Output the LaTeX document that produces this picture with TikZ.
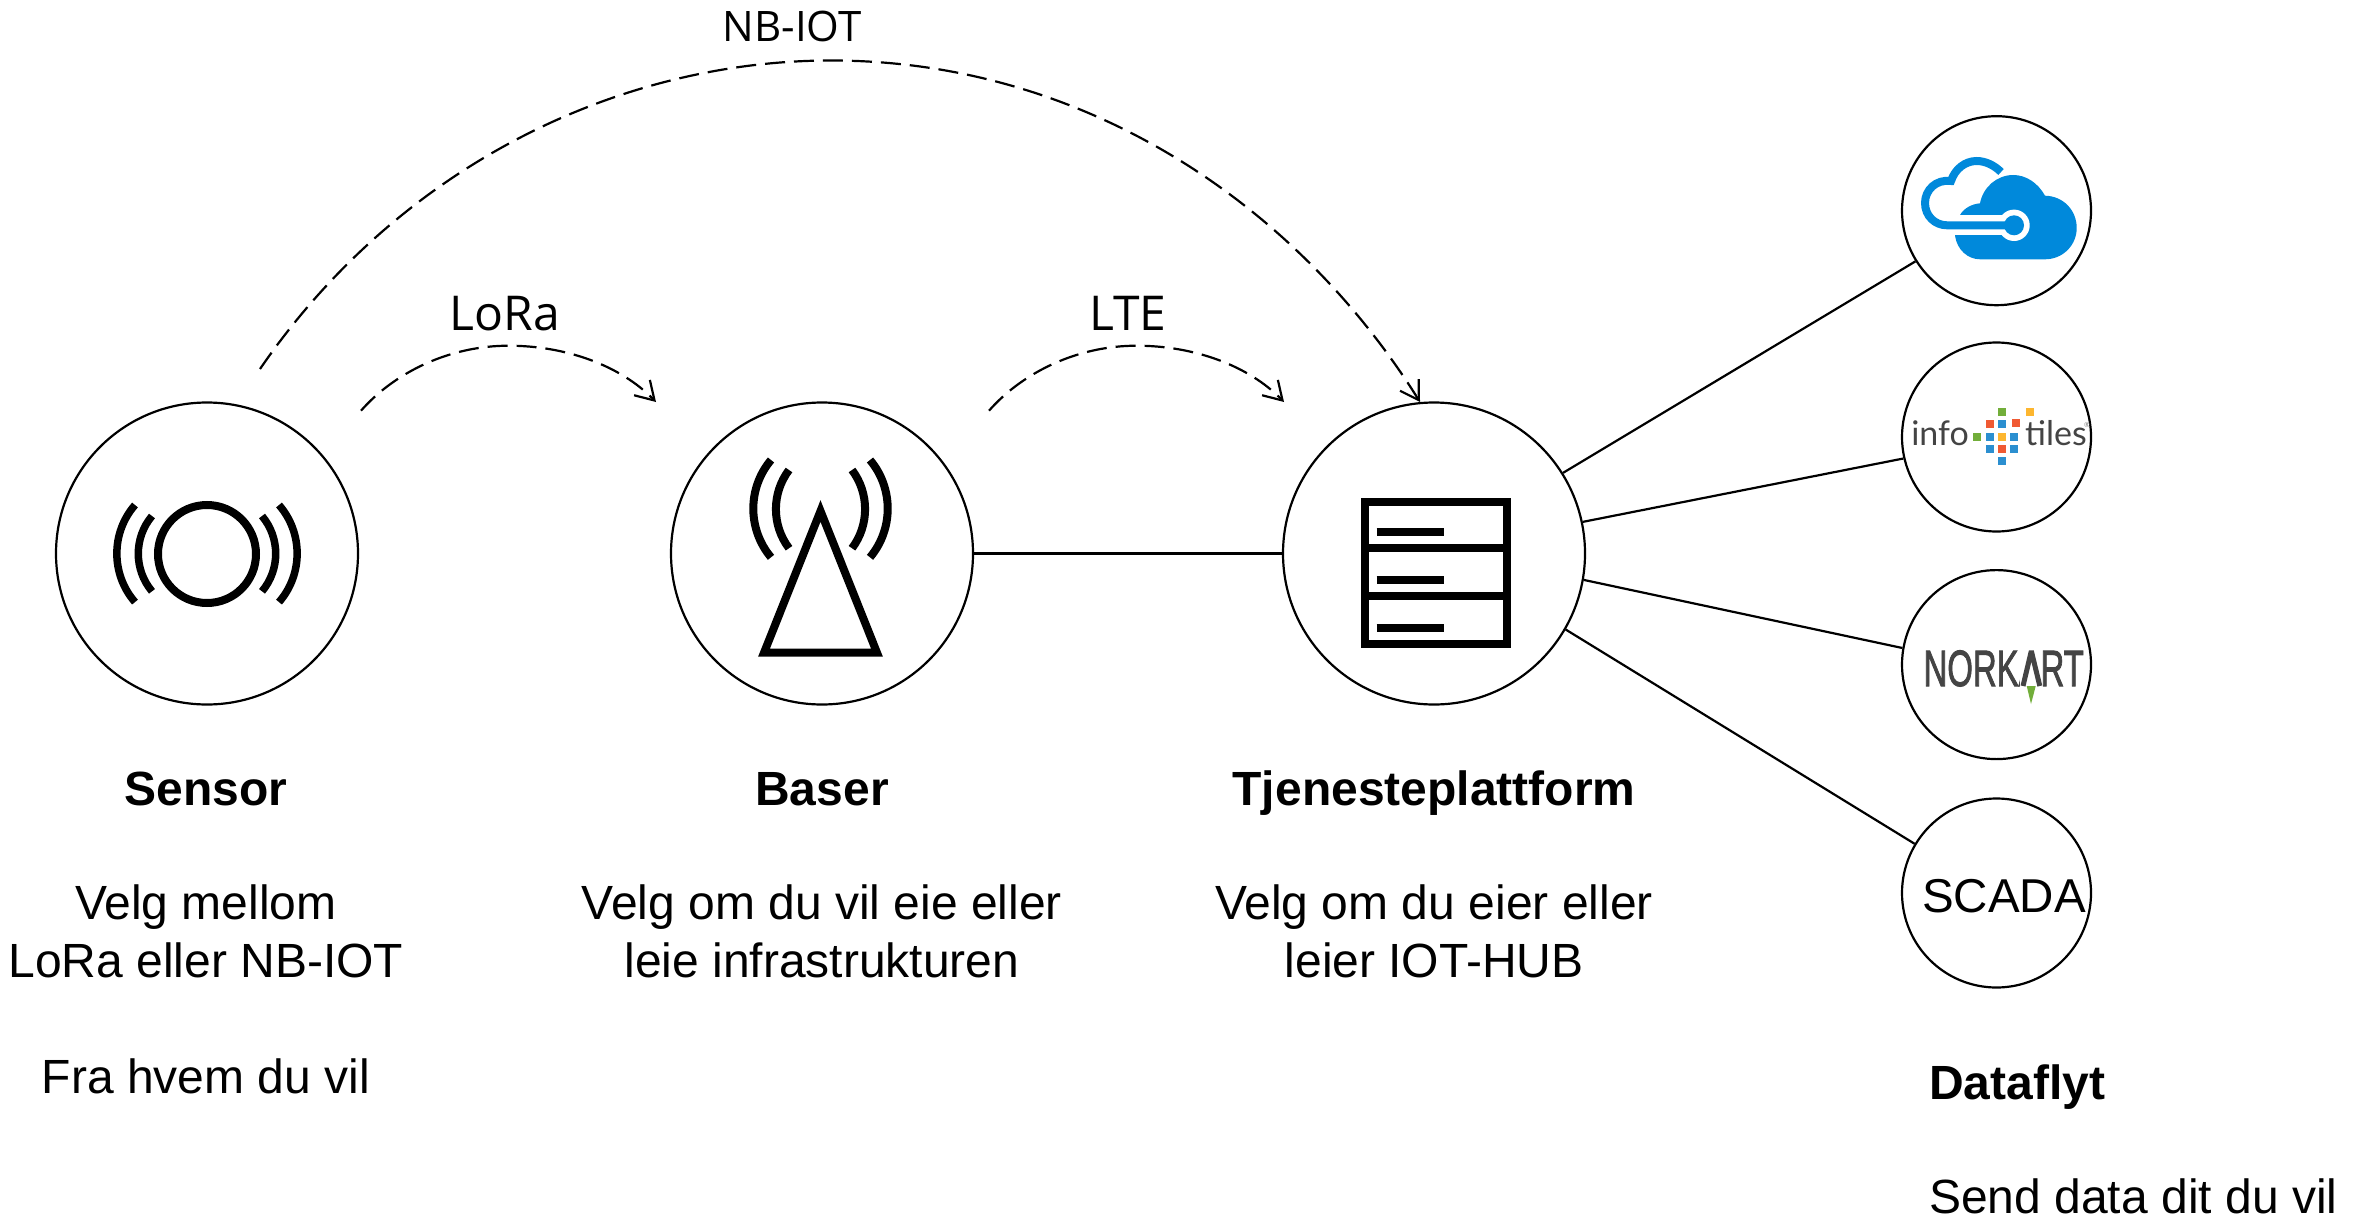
\documentclass[tikz,border=0pt]{standalone}
\usepackage{fontspec}
\setmainfont{Liberation Sans}
\newfontfamily\labfont{Open Sans}
\newfontfamily\logofont{Lato}
\newfontfamily\norkfont[FakeBold=2]{Liberation Sans}
\usetikzlibrary{arrows.meta}
\definecolor{azure}{HTML}{0089DB}
\definecolor{tblue}{HTML}{2B8FD0}
\definecolor{tred}{HTML}{F05A33}
\definecolor{torange}{HTML}{FDB62F}
\definecolor{tgreen}{HTML}{72AE3A}
\definecolor{logogrey}{HTML}{444444}
\newcommand{\tilesq}[3]{\fill[#1] ({1860+#2/3-4},{100+#3/3-4}) rectangle ++(8,8);}
\tikzset{
  x=1pt,y=-1pt,
  bigc/.style={circle,draw=black,line width=2.2pt,minimum size=302pt,inner sep=0pt,fill=white},
  smallc/.style={circle,draw=black,line width=2.2pt,minimum size=189pt,inner sep=0pt,fill=white},
  link/.style={line width=2.2pt,draw=black},
  flow/.style={line width=2.2pt,draw=black,dash pattern=on 20pt off 9pt,-{Straight Barb[length=18pt,width=22pt,line width=2.2pt]}},
  icon/.style={line width=8pt,draw=black},
  lab/.style={anchor=base,inner sep=0pt,font=\labfont\fontsize{48}{56}\selectfont},
  title/.style={anchor=base,inner sep=0pt,font=\bfseries\fontsize{48}{57.5}\selectfont},
  body/.style={anchor=base,inner sep=0pt,align=center,font=\fontsize{48}{57.5}\selectfont},
  left text/.style={anchor=base west,inner sep=0pt,font=\fontsize{48}{57.5}\selectfont},
}
\begin{document}
\begin{tikzpicture}
\useasboundingbox[fill=white] (0,0) rectangle (2357,1225);
% main circles
\node[bigc] (sensor) at (207,553.5) {};
\node[bigc] (baser) at (822,553.5) {};
\node[bigc] (hub) at (1434,553.5) {};
\node[smallc] (azure) at (1996.5,210.7) {};
\node[smallc] (infotiles) at (1996.5,437) {};
\node[smallc] (norkart) at (1996.5,664.6) {};
\node[smallc] (scada) at (1996.5,893) {};
% connectors
\draw[link] (baser) -- (hub);
\draw[link] (hub.32.9) -- (azure.212);
\draw[link] (hub.12.7) -- (infotiles.193.9);
\draw[link] (hub.-10.6) -- (norkart.170.1);
\draw[link] (hub.-30.4) -- (scada.149);
% dashed flows
\coordinate (s1) at (361,410.7);
\coordinate (l1) at (656,402);
\coordinate (b1) at (989,410.7);
\coordinate (t1) at (1284,402);
\coordinate (s2) at (260,369);
\coordinate (t2) at (1420,402);
\draw[flow] (s1) .. controls (395,372) and (450,345.7) .. (508.6,345.7) .. controls (565,345.7) and (620,365) .. (l1);
\draw[flow] (b1) .. controls (1023,372) and (1078,345.7) .. (1136.6,345.7) .. controls (1193,345.7) and (1248,365) .. (t1);
\draw[flow] (s2) .. controls (400,165) and (620,60.5) .. (831,60.5) .. controls (1090,60.5) and (1300,210) .. (t2);
% labels on flows
\node[lab,font=\labfont\fontsize{42}{48}\selectfont] (nbiot) at (792,42) {NB-IOT};
\node[lab] (lora) at (505,330) {LoRa};
\node[lab] (lte) at (1128,330) {LTE};
% sensor icon
\draw[icon] (207,554) circle[radius=49pt];
\draw[icon,line width=7.5pt] (152,516) arc[start angle=140,end angle=220,radius=58.6pt];
\draw[icon,line width=7.5pt] (135,505) arc[start angle=139,end angle=221,radius=74pt];
\draw[icon,line width=7.5pt] (262,516) arc[start angle=40,end angle=-40,radius=58.6pt];
\draw[icon,line width=7.5pt] (279,505) arc[start angle=41,end angle=-41,radius=74pt];
% mast icon
\draw[icon,miter limit=10] (820.5,511) -- (764,652.7) -- (877,652.7) -- cycle;
\draw[icon] (789,470) arc[start angle=143,end angle=217,radius=65pt];
\draw[icon] (771,460) arc[start angle=140,end angle=220,radius=75.7pt];
\draw[icon] (852,470) arc[start angle=37,end angle=-37,radius=65pt];
\draw[icon] (870,460) arc[start angle=40,end angle=-40,radius=75.7pt];
% server icon
\draw[icon] (1364.7,502.3) rectangle (1506.7,644.3);
\draw[icon] (1364.7,548) -- (1506.7,548);
\draw[icon] (1364.7,596) -- (1506.7,596);
\draw[icon] (1376.7,532) -- (1444.3,532);
\draw[icon] (1376.7,579.5) -- (1444.3,579.5);
\draw[icon] (1376.7,628) -- (1444.3,628);
% azure logo
\fill[azure] (1955,235.7) .. controls (1957,250) and (1968,259.3) .. (1980,259.3) -- (2045,259.3)
  .. controls (2063,259.3) and (2076.7,245) .. (2076.7,228) .. controls (2076.7,210) and (2063,196) .. (2045,195.7)
  .. controls (2038,183) and (2026,175) .. (2013.3,175) .. controls (1997,175) and (1983,187) .. (1980,203.3)
  .. controls (1972,204) and (1964,208) .. (1960,215) -- cycle;
\draw[white,line width=20pt] (1950,225.3) -- (2014,225.3);
\fill[white] (2014,225.3) circle[radius=15.7pt];
\fill[azure] (2014,225.3) circle[radius=10pt];
\draw[azure,line width=8pt] (2001,172) .. controls (1994,165) and (1985,161) .. (1976.7,161)
  .. controls (1965,161) and (1955,169) .. (1951,181)
  .. controls (1936,179) and (1925,190) .. (1925,203)
  .. controls (1925,216) and (1935,225.3) .. (1947,225.3) -- (2014,225.3);
% infotiles logo
\node[anchor=base east,inner sep=0pt,text=logogrey,font=\logofont\fontsize{34}{34}\selectfont] (info) at (1969,445) {info};
\node[anchor=base west,inner sep=0pt,text=logogrey,font=\logofont\fontsize{34}{34}\selectfont] (tiles) at (2025,445) {tiles};
\node[anchor=base west,inner sep=0pt,text=gray,font=\logofont\fontsize{7}{7}\selectfont] (regmark) at (2084,427) {®};
\tilesq{tgreen}{426}{936}
\tilesq{torange}{509}{937}
\tilesq{tred}{389}{973}
\tilesq{tblue}{426}{973}
\tilesq{tred}{468}{968}
\tilesq{tgreen}{352}{1010}
\tilesq{tblue}{389}{1010}
\tilesq{torange}{426}{1010}
\tilesq{tblue}{462}{1010}
\tilesq{tblue}{389}{1046}
\tilesq{tred}{426}{1046}
\tilesq{tblue}{462}{1046}
\tilesq{tblue}{426}{1083}
% norkart logo
\node[anchor=base,inner sep=0pt,text=logogrey,xscale=0.645,font=\norkfont\fontsize{51}{51}\selectfont] (norkarttext) at (2003.7,686) {NORKART};
\fill[white] (2019.5,645) rectangle (2041,690);
\draw[logogrey,line width=5pt,line join=bevel] (2023,686) -- (2031.3,651) -- (2039.8,686);
\fill[tgreen] (2026.7,686) -- (2035.7,686) -- (2031,704) -- cycle;
% scada
\node[anchor=base,inner sep=0pt,font=\fontsize{47.5}{47}\selectfont] (scadatext) at (2004,912) {SCADA};
% captions
\node[title] (t1n) at (206,805) {Sensor};
\node[body] (b1n) at (206,977) {Velg mellom\\LoRa eller NB-IOT};
\node[body] (b1m) at (206,1093) {Fra hvem du vil};
\node[title] (t2n) at (822,805) {Baser};
\node[body] (b2n) at (822,977) {Velg om du vil eie eller\\leie infrastrukturen};
\node[title] (t3n) at (1434,805) {Tjenesteplattform};
\node[body] (b3n) at (1434,977) {Velg om du eier eller\\leier IOT-HUB};
\node[left text,font=\bfseries\fontsize{48}{57.5}\selectfont] (t4n) at (1929,1099) {Dataflyt};
\node[left text] (b4n) at (1929,1213) {Send data dit du vil};
\end{tikzpicture}
\end{document}
